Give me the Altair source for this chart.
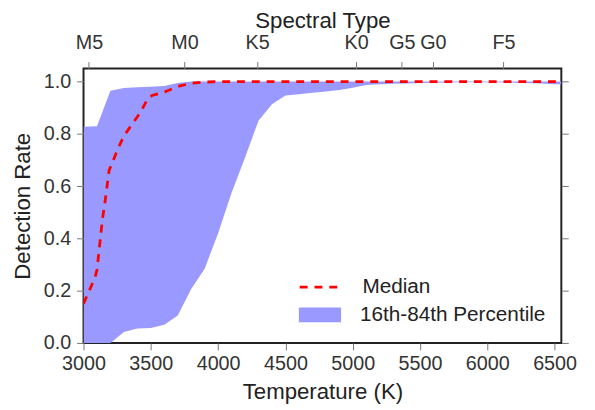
import altair as alt
import pandas as pd

# ---- data ----
band_temp = [3000, 3100, 3200, 3300, 3400, 3500, 3600, 3700, 3800, 3900, 4000,
             4100, 4200, 4300, 4400, 4500, 4600, 4700, 4800, 4900, 5000, 5100,
             5200, 5300, 5400, 5500, 5600, 5800, 6000, 6200, 6400, 6500, 6550]
band_low = [0.0, 0.0, 0.0, 0.042, 0.055, 0.057, 0.07, 0.105, 0.206, 0.284, 0.42,
            0.575, 0.71, 0.85, 0.913, 0.947, 0.952, 0.957, 0.962, 0.968, 0.976, 0.987,
            0.99, 0.992, 0.993, 0.995, 0.996, 0.997, 0.997, 0.996, 0.993, 0.99, 0.99]
band_high = [0.827, 0.829, 0.965, 0.975, 0.978, 0.980, 0.983, 0.995, 1.0, 1.0, 1.0,
             1.0, 1.0, 1.0, 1.0, 1.0, 1.0, 1.0, 1.0, 1.0, 1.0, 1.0,
             1.0, 1.0, 1.0, 1.0, 1.0, 1.0, 1.0, 1.0, 1.0, 1.0, 1.0]

median_temp = [3000, 3085, 3100, 3140, 3165, 3190, 3210, 3260, 3300, 3360, 3420,
               3480, 3510, 3600, 3700, 3800, 3900, 4000, 5000, 6000, 6550]
median_rate = [0.15, 0.25, 0.28, 0.47, 0.56, 0.66, 0.685, 0.748, 0.792, 0.836, 0.88,
               0.937, 0.947, 0.96, 0.981, 0.994, 0.998, 1.0, 1.0, 1.0, 1.0]

spec_temp = [3040, 3750, 4290, 5025, 5365, 5595, 6120]
spec_label = ["M5", "M0", "K5", "K0", "G5", "G0", "F5"]

x_ticks = [3000, 3500, 4000, 4500, 5000, 5500, 6000, 6500]
y_ticks = [0.0, 0.2, 0.4, 0.6, 0.8, 1.0]

band_name = "16th-84th Percentile"
median_name = "Median"

band_df = pd.DataFrame({"T": band_temp, "lo": band_low, "hi": band_high, "s": band_name})
med_df = pd.DataFrame({"T": median_temp, "r": median_rate, "s": median_name})
spec_df = pd.DataFrame({"T": spec_temp, "lab": spec_label})

FONT = "Liberation Sans"
xs = alt.Scale(domain=[3000, 6550], nice=False, zero=False)
ys = alt.Scale(domain=[0, 1.05], nice=False, zero=False)

label_expr = " : ".join(
    f"datum.value == {t} ? '{l}'" for t, l in zip(spec_temp, spec_label)
) + " : ''"

area = alt.Chart(band_df).mark_area(opacity=1, clip=True).encode(
    x=alt.X("T:Q", scale=xs,
            axis=alt.Axis(orient="bottom", values=x_ticks, format="d",
                          title="Temperature (K)", titlePadding=7,
                          labelPadding=4)),
    y=alt.Y("lo:Q", scale=ys,
            axis=alt.Axis(orient="left", values=y_ticks, format=".1f",
                          title="Detection Rate", titlePadding=9,
                          labelPadding=6)),
    y2="hi:Q",
    fill=alt.Fill("s:N",
                  scale=alt.Scale(domain=[band_name], range=["#9999ff"]),
                  legend=alt.Legend(title=None, orient="none",
                                    legendX=218, legendY=228,
                                    symbolType="M-1,-0.35L1,-0.35L1,0.35L-1,0.35Z",
                                    symbolSize=1824, symbolStrokeWidth=0,
                                    symbolOpacity=1, labelOffset=19, padding=0,
                                    labelLimit=400)),
)

line = alt.Chart(med_df).mark_line(strokeDash=[8, 7], strokeWidth=2.8, clip=True).encode(
    x=alt.X("T:Q", scale=xs, axis=None),
    y=alt.Y("r:Q", scale=ys,
            axis=alt.Axis(orient="right", values=y_ticks, labels=False, title=None)),
    stroke=alt.Stroke("s:N",
                      scale=alt.Scale(domain=[median_name], range=["#ff0000"]),
                      legend=alt.Legend(title=None, orient="none",
                                        legendX=217.5, legendY=200,
                                        symbolType="stroke", symbolSize=1600,
                                        symbolStrokeWidth=2.8, symbolDash=[8, 7],
                                        labelOffset=22, padding=0, labelLimit=400)),
)

spec = alt.Chart(spec_df).mark_point(opacity=0).encode(
    x=alt.X("T:Q", scale=xs,
            axis=alt.Axis(orient="top", values=spec_temp, labelExpr=label_expr,
                          title="Spectral Type", titlePadding=1, labelPadding=9)),
    y=alt.value(0),
)

chart = alt.layer(area, line, spec).resolve_scale(
    x="shared", y="shared"
).resolve_axis(
    x="independent", y="independent"
).resolve_legend(
    fill="independent", stroke="independent"
).properties(
    width=484, height=278, autosize="none",
    padding={"left": 76.5, "top": 58.7, "right": 26, "bottom": 65},
).configure_view(
    stroke="#222222", strokeWidth=2
).configure_axis(
    domain=False, grid=False, tickColor="#777777", tickSize=7, tickWidth=1,
    labelFont=FONT, labelFontSize=20, labelColor="#333333",
    labelFlush=False, labelOverlap=False,
    titleFont=FONT, titleFontSize=22.5, titleFontWeight="normal", titleColor="#222222",
).configure_legend(
    labelFont=FONT, labelFontSize=21, labelColor="#222222"
)

chart.save("out.html", embed_options={"renderer": "svg", "actions": False})
